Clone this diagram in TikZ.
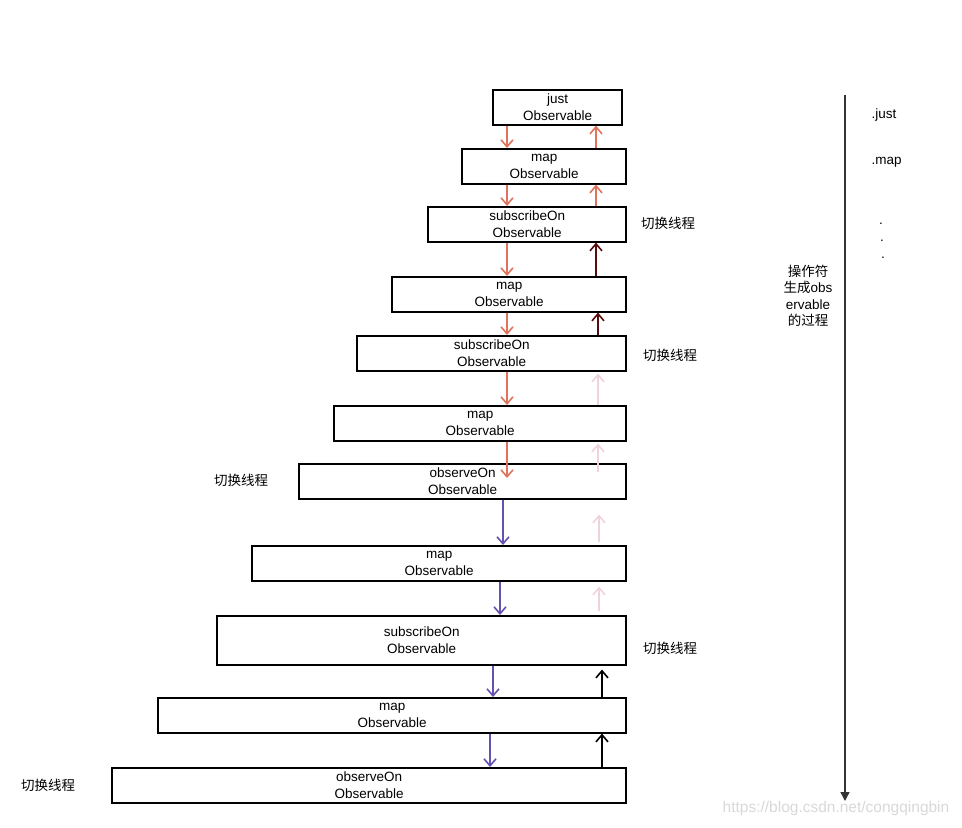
\documentclass[tikz,border=0pt]{standalone}
\usepackage{fontspec}
\setmainfont{Liberation Sans}
\newfontfamily\cjk{Noto Sans CJK SC}
\usetikzlibrary{arrows.meta}
\definecolor{salmon}{HTML}{E0735C}
\definecolor{maroon}{HTML}{5A0C0C}
\definecolor{palepink}{HTML}{F0D3DA}
\definecolor{violet}{HTML}{6650B0}
\definecolor{marks}{HTML}{D8D8D8}
\tikzset{
  obs/.style={draw, line width=1.6pt, anchor=north east, align=center, inner sep=0pt,
    font=\fontsize{13.5}{16.5}\selectfont},
  flow/.style={line width=1.5pt, -{Straight Barb[length=7pt,width=12pt,line width=1.6pt]}},
  lbl/.style={font=\fontsize{13.5}{16.5}\selectfont, align=center}
}

\begin{document}
\begin{tikzpicture}[x=1pt,y=-1pt]
\useasboundingbox (0,0) rectangle (962,828);

% Observable chain
\node[obs, minimum width=129, minimum height=35] (just) at (623,89) {just\\Observable};
\node[obs, minimum width=164, minimum height=35] (mapA) at (627,148) {map\\Observable};
\node[obs, minimum width=198, minimum height=35] (subA) at (627,206) {subscribeOn\\Observable};
\node[obs, minimum width=234, minimum height=35] (mapB) at (627,276) {map\\Observable};
\node[obs, minimum width=269, minimum height=35] (subB) at (627,335) {subscribeOn\\Observable};
\node[obs, minimum width=292, minimum height=35] (mapC) at (627,405) {map\\Observable};
\node[obs, minimum width=327, minimum height=35] (obsA) at (627,463) {observeOn\\Observable};
\node[obs, minimum width=374, minimum height=35] (mapD) at (627,545) {map\\Observable};
\node[obs, minimum width=409, minimum height=49] (subC) at (627,615) {subscribeOn\\Observable};
\node[obs, minimum width=468, minimum height=35] (mapE) at (627,697) {map\\Observable};
\node[obs, minimum width=514, minimum height=35] (obsB) at (627,767) {observeOn\\Observable};

% downstream
\draw[flow, salmon] (just.south -| 507,0) -- (mapA.north -| 507,0);
\draw[flow, salmon] (mapA.south -| 507,0) -- (subA.north -| 507,0);
\draw[flow, salmon] (subA.south -| 507,0) -- (mapB.north -| 507,0);
\draw[flow, salmon] (mapB.south -| 507,0) -- (subB.north -| 507,0);
\draw[flow, salmon] (subB.south -| 507,0) -- (mapC.north -| 507,0);
\draw[flow, salmon] (mapC.south -| 507,0) -- ([yshift=-15pt]obsA.north -| 507,0);
\draw[flow, violet] (obsA.south -| 503,0) -- (mapD.north -| 503,0);
\draw[flow, violet] (mapD.south -| 500,0) -- (subC.north -| 500,0);
\draw[flow, violet] (subC.south -| 493,0) -- (mapE.north -| 493,0);
\draw[flow, violet] (mapE.south -| 490,0) -- (obsB.north -| 490,0);

% upstream
\draw[flow, salmon] (mapA.north -| 596,0) -- (just.south -| 596,0);
\draw[flow, salmon] (subA.north -| 596,0) -- (mapA.south -| 596,0);
\draw[flow, maroon] (mapB.north -| 596,0) -- (subA.south -| 596,0);
\draw[flow, maroon] (subB.north -| 598,0) -- (mapB.south -| 598,0);
\draw[flow, palepink] (mapC.north -| 598,0) -- ([yshift=-2pt]subB.south -| 598,0);
\draw[flow, palepink] ([yshift=-9pt]obsA.north -| 598,0) -- ([yshift=-2pt]mapC.south -| 598,0);
\draw[flow, palepink] ([yshift=3pt]mapD.north -| 599,0) -- ([yshift=-15pt]obsA.south -| 599,0);
\draw[flow, palepink] ([yshift=4pt]subC.north -| 599,0) -- ([yshift=-5pt]mapD.south -| 599,0);
\draw[flow, black] (mapE.north -| 602,0) -- ([yshift=-4pt]subC.south -| 602,0);
\draw[flow, black] (obsB.north -| 602,0) -- (mapE.south -| 602,0);

% thread switches
\node[lbl] (swA) at (668,223) {\cjk 切换线程};
\node[lbl] (swB) at (670,355) {\cjk 切换线程};
\node[lbl] (swC) at (241,480) {\cjk 切换线程};
\node[lbl] (swD) at (670,648) {\cjk 切换线程};
\node[lbl] (swE) at (48,785) {\cjk 切换线程};

% operator timeline
\coordinate (top) at (845,95);
\coordinate (bottom) at (845,801);
\draw[line width=1.4pt, black!80, -{Triangle[length=9pt,width=9pt]}] (top) -- (bottom);
\node[lbl, anchor=west] (opJust) at (868,115) {.just};
\node[lbl, anchor=west] (opMap) at (868,162) {.map};
\node[lbl] (dotA) at (881,224) {.};
\node[lbl] (dotB) at (882,241) {.};
\node[lbl] (dotC) at (883,258) {.};
\node[lbl] (process) at (808,296)
  {{\cjk 操作符}\\{\cjk 生成}obs\\ervable\\{\cjk 的过程}};

\node[lbl, text=marks, font=\fontsize{15.5}{18}\selectfont] (mark) at (836,808) {https://blog.csdn.net/congqingbin};
\end{tikzpicture}
\end{document}
